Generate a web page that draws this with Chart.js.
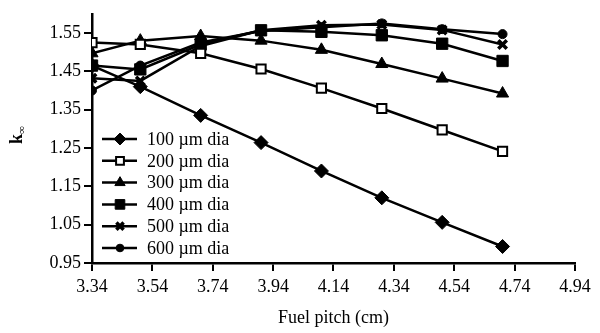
<!DOCTYPE html>
<html>
<head>
<meta charset="utf-8">
<script src="https://cdn.jsdelivr.net/npm/chart.js@4/dist/chart.umd.min.js"></script>
<style>
  body { margin: 0; background: #fff; }
  #wrap { width: 600px; height: 333px; position: relative; }
</style>
</head>
<body>
<div id="wrap"><canvas id="kinfChart"></canvas></div>
<script>
// fuel pitch (cm)
var pitch = [3.34, 3.5, 3.7, 3.9, 4.1, 4.3, 4.5, 4.7];

// k-infinity per particle diameter
var dia100 = [1.465, 1.41, 1.335, 1.264, 1.19, 1.12, 1.056, 0.993];
var dia200 = [1.525, 1.52, 1.497, 1.456, 1.406, 1.353, 1.297, 1.241];
var dia300 = [1.497, 1.53, 1.542, 1.53, 1.506, 1.469, 1.431, 1.392];
var dia400 = [1.465, 1.455, 1.52, 1.557, 1.553, 1.544, 1.522, 1.477];
var dia500 = [1.432, 1.425, 1.516, 1.557, 1.57, 1.572, 1.558, 1.52];
var dia600 = [1.40, 1.465, 1.525, 1.555, 1.565, 1.575, 1.56, 1.547];

var seriesNames = ['100 \u00b5m dia', '200 \u00b5m dia', '300 \u00b5m dia', '400 \u00b5m dia', '500 \u00b5m dia', '600 \u00b5m dia'];

var xTicks = [3.34, 3.54, 3.74, 3.94, 4.14, 4.34, 4.54, 4.74, 4.94];
var yTicks = [0.95, 1.05, 1.15, 1.25, 1.35, 1.45, 1.55];

var FONT = 'Liberation Serif, Times New Roman, serif';

function pts(vals) {
  var out = [];
  for (var i = 0; i < vals.length; i++) {
    out.push({x: pitch[i], y: vals[i]});
  }
  return out;
}

function makeSet(label, vals, style, radius, fill, bw) {
  return {
    label: label,
    data: pts(vals),
    borderColor: '#000',
    borderWidth: 2.5,
    pointStyle: style,
    pointRadius: radius,
    pointBackgroundColor: fill,
    pointBorderColor: '#000',
    pointBorderWidth: bw,
    tension: 0
  };
}

var sets = [
  makeSet(seriesNames[0], dia100, 'rectRot', 7, '#000', 1),
  makeSet(seriesNames[1], dia200, 'rect', 6.5, '#fff', 2),
  makeSet(seriesNames[2], dia300, 'triangle', 7, '#000', 1),
  makeSet(seriesNames[3], dia400, 'rect', 8, '#000', 1),
  makeSet(seriesNames[4], dia500, 'crossRot', 6, '#000', 3.5),
  makeSet(seriesNames[5], dia600, 'circle', 4.5, '#000', 1)
];

// legend with a short line through each marker, inside the plot
var lineLegend = {
  id: 'lineLegend',
  afterDraw: function (chart) {
    var ctx = chart.ctx;
    var x0 = 102, x1 = 137, xm = 120, xt = 147;
    var y0 = 139, dy = 21.8;
    ctx.save();
    ctx.font = '18px ' + FONT;
    ctx.textBaseline = 'middle';
    ctx.textAlign = 'left';
    chart.data.datasets.forEach(function (ds, i) {
      var y = y0 + i * dy;
      ctx.strokeStyle = '#000';
      ctx.lineWidth = 2.5;
      ctx.beginPath();
      ctx.moveTo(x0, y);
      ctx.lineTo(x1, y);
      ctx.stroke();
      ctx.fillStyle = ds.pointBackgroundColor;
      ctx.strokeStyle = '#000';
      ctx.lineWidth = ds.pointBorderWidth;
      Chart.helpers.drawPoint(ctx, {
        pointStyle: ds.pointStyle,
        radius: ds.pointRadius * 0.85,
        rotation: 0,
        borderWidth: ds.pointBorderWidth
      }, xm, y);
      ctx.fillStyle = '#000';
      ctx.fillText(ds.label, xt, y + 1);
    });

    // y title: k with subscript infinity, rotated
    ctx.translate(22, 136);
    ctx.rotate(-Math.PI / 2);
    ctx.textAlign = 'left';
    ctx.textBaseline = 'alphabetic';
    ctx.font = 'bold 18px ' + FONT;
    var kw = ctx.measureText('k').width;
    ctx.fillText('k', -8, 0);
    ctx.font = 'bold 11px ' + FONT;
    ctx.fillText('\u221e', -8 + kw, 3);
    ctx.restore();
  }
};

var ctx = document.getElementById('kinfChart');
var myChart = new Chart(ctx, {
  type: 'line',
  data: { datasets: sets },
  options: {
    responsive: true,
    maintainAspectRatio: false,
    animation: false,
    layout: { padding: { top: 6, right: 25, left: 0, bottom: 0 } },
    plugins: {
      legend: { display: false },
      tooltip: { enabled: false }
    },
    scales: {
      x: {
        type: 'linear',
        min: 3.34,
        max: 4.94,
        afterBuildTicks: function (scale) {
          scale.ticks = xTicks.map(function (v) { return {value: v}; });
        },
        afterFit: function (scale) { scale.height = 70; },
        grid: {
          drawOnChartArea: false,
          drawTicks: true,
          tickLength: 8,
          color: '#000',
          lineWidth: 2
        },
        border: { display: true, color: '#000', width: 2.5 },
        ticks: {
          color: '#000',
          padding: 5,
          maxRotation: 0,
          font: { family: FONT, size: 18 },
          callback: function (v) { return v.toFixed(2); }
        },
        title: {
          display: true,
          text: 'Fuel pitch (cm)',
          color: '#000',
          font: { family: FONT, size: 18 },
          padding: { top: 4, bottom: 4 }
        }
      },
      y: {
        min: 0.95,
        max: 1.6,
        afterBuildTicks: function (scale) {
          scale.ticks = yTicks.map(function (v) { return {value: v}; });
        },
        afterFit: function (scale) { scale.width = 92; },
        grid: {
          drawOnChartArea: false,
          drawTicks: true,
          tickLength: 8,
          color: '#000',
          lineWidth: 2
        },
        border: { display: true, color: '#000', width: 2.5 },
        ticks: {
          color: '#000',
          padding: 3,
          font: { family: FONT, size: 18 },
          callback: function (v) { return v.toFixed(2); }
        }
      }
    }
  },
  plugins: [lineLegend]
});
</script>
</body>
</html>
